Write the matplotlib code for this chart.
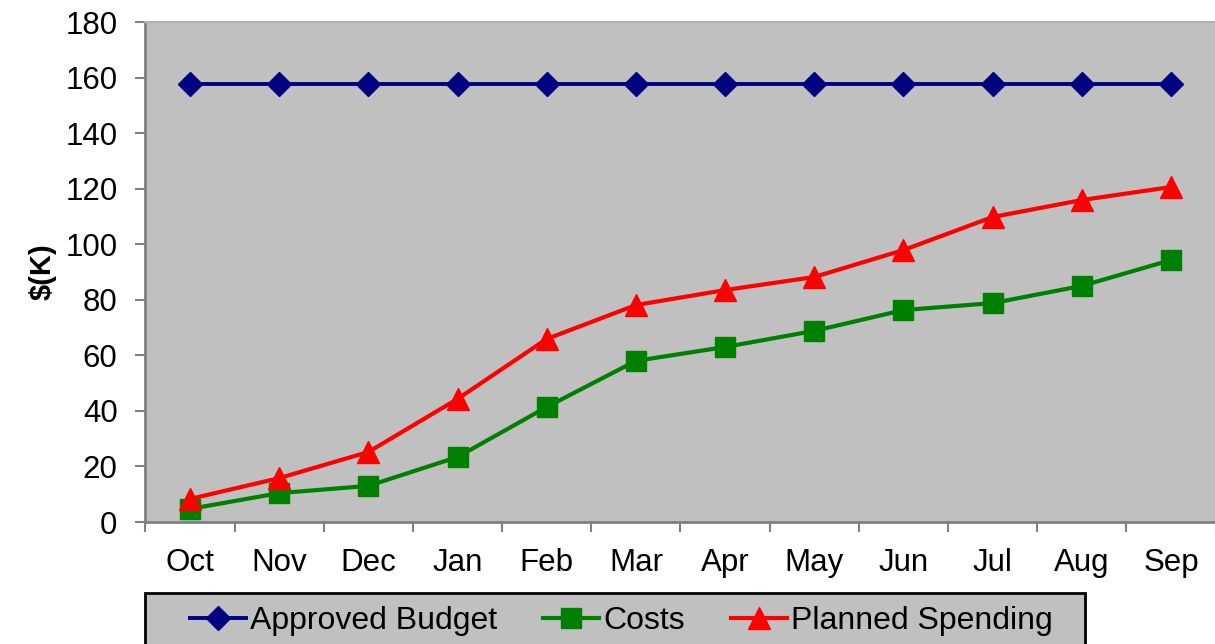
import numpy as np
import matplotlib.pyplot as plt
from matplotlib.patches import Rectangle

plt.rcParams["font.family"] = ["Liberation Sans", "DejaVu Sans"]

months = ["Oct", "Nov", "Dec", "Jan", "Feb", "Mar", "Apr", "May", "Jun", "Jul", "Aug", "Sep"]
approved = [157.7] * 12
costs = [4.7, 10.4, 13.0, 23.4, 41.4, 58.0, 63.0, 68.8, 76.3, 78.8, 85.0, 94.3]
planned = [8.3, 15.8, 25.2, 44.3, 65.9, 78.1, 83.5, 88.2, 97.9, 109.8, 115.9, 120.6]

W, H = 1215, 644
fig = plt.figure(figsize=(W / 100, H / 100), dpi=100)
ax = fig.add_axes([145.4 / W, 1 - 522 / H, (1215.6 - 145.4) / W, 500 / H])
ax.set_facecolor("#C0C0C0")

x = np.arange(len(months))
ax.plot(x, approved, color="#000080", lw=2.8, marker="D", ms=12.5, label="Approved Budget")
ax.plot(x, costs, color="#008000", lw=3, marker="s", ms=15, label="Costs")
ax.plot(x, planned, color="#FF0000", lw=3, marker="^", ms=15.5, label="Planned Spending")

ax.set_xlim(-0.5, 11.5)
ax.set_ylim(0, 180)
ax.set_yticks(np.arange(0, 181, 20))
ax.tick_params(axis="y", labelsize=22.5, length=7, width=1.5, color="#808080", pad=13)

# month labels centred, tick marks at the category boundaries
ax.set_xticks(x)
ax.set_xticklabels(months)
ax.set_xticks(np.arange(-0.5, 12, 1), minor=True)
ax.tick_params(axis="x", which="major", length=0, labelsize=22.5, pad=19)
ax.tick_params(axis="x", which="minor", length=7, width=1.5, color="#808080")

for side in ["left", "bottom"]:
    ax.spines[side].set_color("#808080")
    ax.spines[side].set_linewidth(2)
ax.spines["top"].set_color("#B0B0B0")
ax.spines["top"].set_linewidth(1.5)
ax.spines["right"].set_visible(False)

ax.set_ylabel("$(K)", fontsize=21, fontweight="bold")
ax.yaxis.set_label_coords(-(145 - 56) / 1070, 0.5)

# legend box drawn by hand, running off the bottom of the figure
fig.patches.append(Rectangle((145 / W, -20 / H), 940 / W, (644 - 593 + 20) / H,
                             transform=fig.transFigure, facecolor="#C0C0C0",
                             edgecolor="black", lw=2, zorder=0))
fig.legend(loc="center left", bbox_to_anchor=(190 / W, 1 - 621 / H), ncol=3,
           frameon=False, fontsize=23, numpoints=1, borderpad=0, borderaxespad=0,
           handlelength=1.75, handletextpad=0.12, columnspacing=1.45)

plt.savefig("out.png", dpi=100)
